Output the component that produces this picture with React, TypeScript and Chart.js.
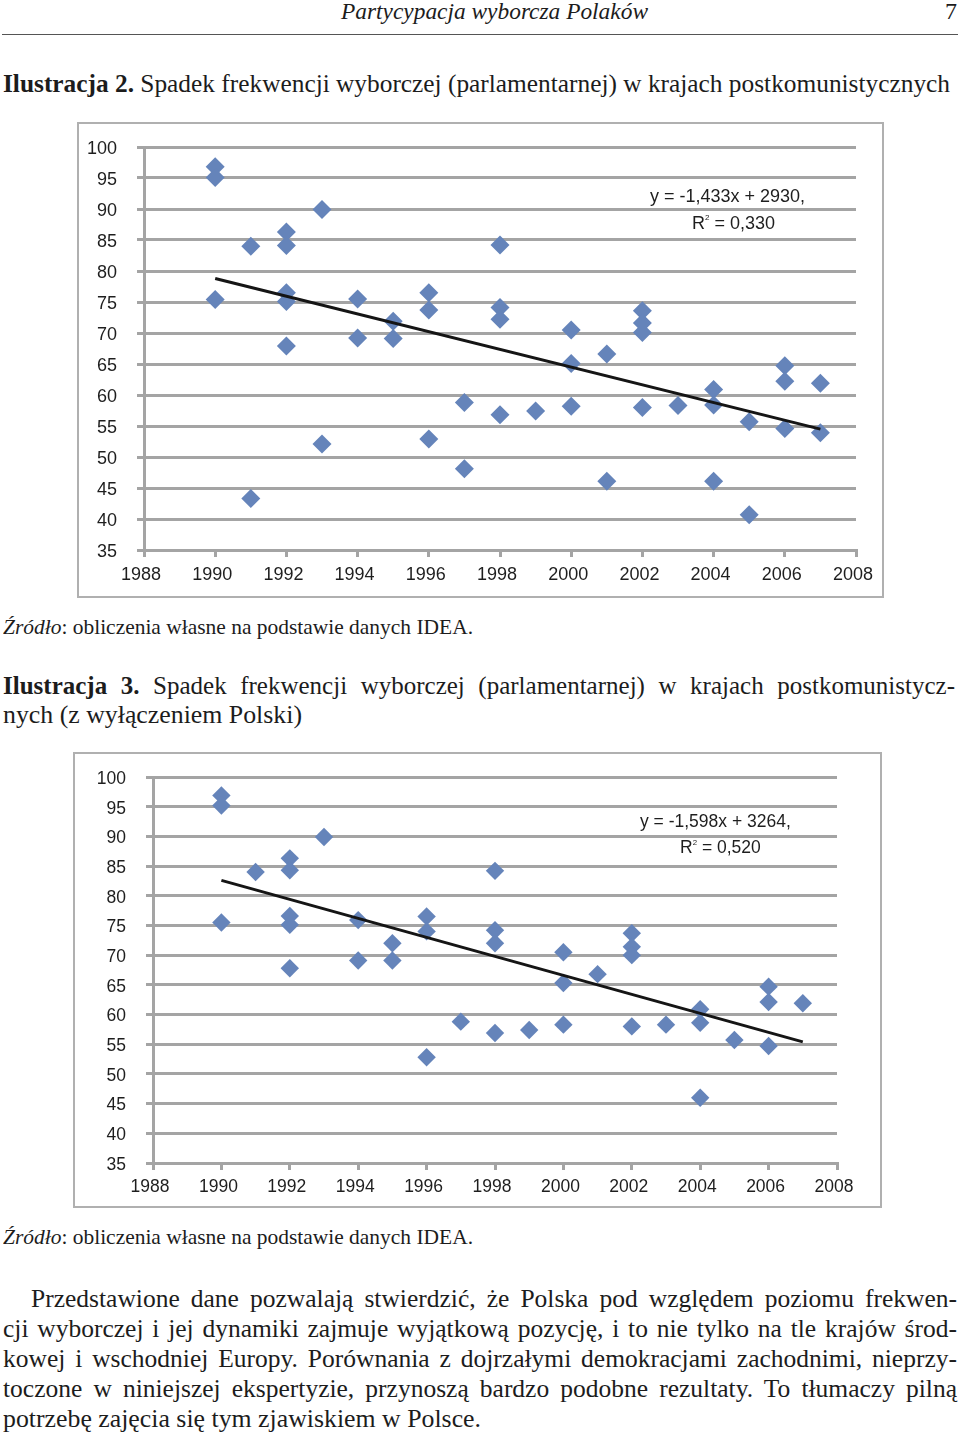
import React, { useEffect, useLayoutEffect, useRef } from 'react';
import { Chart, registerables } from 'chart.js';

Chart.register(...registerables);

// ---------- data: Ilustracja 2 (all countries) ----------
const YEARS_ALL = [
  1990, 1990, 1990, 1991, 1991, 1992, 1992, 1992, 1992, 1992, 1993, 1993,
  1994, 1994, 1995, 1995, 1996, 1996, 1996, 1997, 1997, 1998, 1998, 1998, 1998,
  1999, 2000, 2000, 2000, 2001, 2001, 2002, 2002, 2002, 2002, 2003,
  2004, 2004, 2004, 2005, 2005, 2006, 2006, 2006, 2007, 2007,
];
const TURNOUT_ALL = [
  96.8, 95.1, 75.4, 84.0, 43.3, 86.3, 84.1, 76.5, 75.1, 67.9, 89.9, 52.1,
  75.5, 69.2, 71.9, 69.1, 76.5, 73.7, 52.9, 58.8, 48.1, 84.2, 74.1, 72.2, 56.8,
  57.4, 70.5, 65.1, 58.2, 66.6, 46.1, 73.6, 71.6, 70.1, 58.0, 58.3,
  60.9, 58.4, 46.1, 55.7, 40.7, 64.7, 62.2, 54.6, 61.9, 53.9,
];
const TREND_ALL_YEARS = [1990, 2007];
const TREND_ALL_VALUES = [78.8, 54.5];
const EQ_ALL = ['y = -1,433x + 2930,', '0,330'];

// ---------- data: Ilustracja 3 (without Poland) ----------
const YEARS_NO_PL = [
  1990, 1990, 1990, 1991, 1992, 1992, 1992, 1992, 1992, 1993,
  1994, 1994, 1995, 1995, 1996, 1996, 1996, 1997, 1998, 1998, 1998, 1998,
  1999, 2000, 2000, 2000, 2001, 2002, 2002, 2002, 2002, 2003,
  2004, 2004, 2004, 2005, 2006, 2006, 2006, 2007,
];
const TURNOUT_NO_PL = [
  96.9, 95.2, 75.5, 84.0, 86.3, 84.3, 76.6, 75.1, 67.8, 89.9,
  75.9, 69.1, 72.0, 69.1, 76.5, 74.0, 52.8, 58.8, 84.2, 74.2, 72.0, 56.9,
  57.4, 70.5, 65.3, 58.3, 66.8, 73.7, 71.4, 70.0, 58.0, 58.3,
  60.9, 58.6, 46.0, 55.7, 64.7, 62.1, 54.7, 61.9,
];
const TREND_NO_PL_YEARS = [1990, 2007];
const TREND_NO_PL_VALUES = [82.6, 55.4];
const EQ_NO_PL = ['y = -1,598x + 3264,', '0,520'];

const X_MIN = 1988;
const X_MAX = 2008;
const X_STEP = 2;
const Y_MIN = 35;
const Y_MAX = 100;
const Y_STEP = 5;

const MARKER = '#6584BA';
const GRID = '#a4a4a4';
const TICK_TEXT = '#1e1e1e';

type ChartBoxProps = {
  left: number; top: number; width: number; height: number;
  years: number[]; values: number[]; trendYears: number[]; trendValues: number[];
  yAxisWidth: number; padTop: number; padRight: number; padBottom: number;
  fontSize: number; pointRadius: number;
};

function ChartBox(p: ChartBoxProps) {
  const ref = useRef<HTMLCanvasElement | null>(null);
  useEffect(() => {
    if (!ref.current) return;
    const pts = p.years.map((x, i) => ({ x, y: p.values[i] }));
    const trend = p.trendYears.map((x, i) => ({ x, y: p.trendValues[i] }));
    const font = { family: '"Liberation Sans", Arial, sans-serif', size: p.fontSize };
    const chart = new Chart(ref.current, {
      type: 'scatter',
      data: {
        datasets: [
          {
            data: pts,
            pointStyle: 'rectRot',
            pointRadius: p.pointRadius,
            backgroundColor: MARKER,
            borderColor: MARKER,
            borderWidth: 0,
            order: 1,
          } as any,
          {
            data: trend,
            showLine: true,
            borderColor: '#151515',
            borderWidth: 3,
            pointRadius: 0,
            order: 0,
          } as any,
        ],
      },
      options: {
        animation: false,
        responsive: false,
        devicePixelRatio: 1,
        layout: { autoPadding: false, padding: { left: 0, top: p.padTop, right: p.padRight, bottom: p.padBottom } },
        plugins: { legend: { display: false }, tooltip: { enabled: false } },
        scales: {
          x: {
            type: 'linear',
            min: X_MIN,
            max: X_MAX,
            ticks: {
              stepSize: X_STEP,
              callback: (v: any) => String(v),
              color: TICK_TEXT,
              font,
              padding: 7,
              maxRotation: 0,
              autoSkip: false,
              labelOffset: -3,
            },
            grid: { drawOnChartArea: false, drawTicks: true, tickLength: 7, color: GRID, lineWidth: 3 },
            border: { color: GRID, width: 3 },
            afterFit: (s: any) => {
              s.height = 40;
              s.paddingLeft = 0; s.paddingRight = 0; s.paddingTop = 0; s.paddingBottom = 0;
            },
          },
          y: {
            type: 'linear',
            min: Y_MIN,
            max: Y_MAX,
            ticks: { stepSize: Y_STEP, color: TICK_TEXT, font, padding: 20, labelOffset: 2 },
            grid: { drawTicks: true, tickLength: 7, color: GRID, lineWidth: 3 },
            border: { color: GRID, width: 3 },
            afterFit: (s: any) => {
              s.width = p.yAxisWidth;
              s.paddingLeft = 0; s.paddingRight = 0; s.paddingTop = 0; s.paddingBottom = 0;
            },
          },
        },
      } as any,
    });
    return () => chart.destroy();
  }, []);
  return (
    <>
      <div
        style={{
          position: 'absolute', left: p.left, top: p.top, width: p.width, height: p.height,
          border: '2px solid #b0b0b0', boxSizing: 'border-box', background: '#fff',
        }}
      />
      <canvas
        ref={ref}
        width={p.width}
        height={p.height}
        style={{ position: 'absolute', left: p.left, top: p.top, width: p.width, height: p.height }}
      />
    </>
  );
}

type LineProps = {
  left: number; baseline: number; width: number; size: number;
  justify?: boolean; children: React.ReactNode; style?: React.CSSProperties;
};

function Line({ left, baseline, width, size, justify, children, style }: LineProps) {
  const ref = useRef<HTMLDivElement | null>(null);
  useLayoutEffect(() => {
    const fit = () => {
      const el = ref.current;
      if (!el) return;
      el.style.transform = 'none';
      el.style.wordSpacing = '0px';
      const natural = el.getBoundingClientRect().width;
      if (!natural) return;
      const spaces = (el.textContent || '').split(' ').length - 1;
      if (justify && natural < width && spaces > 0) {
        el.style.wordSpacing = (width - natural) / spaces + 'px';
      } else {
        el.style.transform = `scaleX(${width / natural})`;
      }
    };
    fit();
    const f: any = (document as any).fonts;
    if (f && f.ready) f.ready.then(fit);
  });
  return (
    <div
      ref={ref}
      style={{
        position: 'absolute', left, top: baseline - 0.8375 * size, fontSize: size,
        lineHeight: size + 'px', whiteSpace: 'pre', transformOrigin: '0 0',
        fontFamily: '"Liberation Serif", "Times New Roman", serif', color: '#1c1c1c',
        ...style,
      }}
    >
      {children}
    </div>
  );
}

function Eq({ left, center, size, children }: { left: number; center: number; size: number; children: React.ReactNode }) {
  return (
    <div
      style={{
        position: 'absolute', left, top: center - 0.4885 * size, fontSize: size, lineHeight: size + 'px',
        whiteSpace: 'pre', fontFamily: '"Liberation Sans", Arial, sans-serif', color: '#1e1e1e',
      }}
    >
      {children}
    </div>
  );
}

function R2({ value, size }: { value: string; size: number }) {
  return (
    <>
      R<span style={{ fontSize: size * 0.45, position: 'relative', top: -size * 0.5 }}>2</span> = {value}
    </>
  );
}

export default function App() {
  return (
    <div style={{ position: 'absolute', left: 0, top: 0, width: 960, height: 1436, background: '#fff', overflow: 'hidden' }}>
      {/* running head */}
      <Line left={341} baseline={19} width={307} size={23} style={{ fontStyle: 'italic' }}>Partycypacja wyborcza Polaków</Line>
      <Line left={945} baseline={19} width={12} size={23}>7</Line>
      <div style={{ position: 'absolute', left: 2, top: 34, width: 956, height: 1, background: '#555' }} />

      <Line left={3} baseline={92} width={947} size={25}>
        <b>Ilustracja 2.</b> Spadek frekwencji wyborczej (parlamentarnej) w krajach postkomunistycznych
      </Line>

      <ChartBox
        left={77} top={122} width={807} height={476}
        years={YEARS_ALL} values={TURNOUT_ALL}
        trendYears={TREND_ALL_YEARS} trendValues={TREND_ALL_VALUES}
        yAxisWidth={67} padTop={25} padRight={28} padBottom={8}
        fontSize={18} pointRadius={9.5}
      />
      <Eq left={650} center={196} size={18}>{EQ_ALL[0]}</Eq>
      <Eq left={692} center={223} size={18}><R2 value={EQ_ALL[1]} size={18} /></Eq>

      <Line left={3} baseline={635} width={470} size={21.5}>
        <i>Źródło</i>: obliczenia własne na podstawie danych IDEA.
      </Line>

      <Line left={3} baseline={694} width={952} size={25} justify>
        <b>Ilustracja 3.</b> Spadek frekwencji wyborczej (parlamentarnej) w krajach postkomunistycz-
      </Line>
      <Line left={3} baseline={723} width={299} size={25}>nych (z wyłączeniem Polski)</Line>

      <ChartBox
        left={73} top={752} width={809} height={456}
        years={YEARS_NO_PL} values={TURNOUT_NO_PL}
        trendYears={TREND_NO_PL_YEARS} trendValues={TREND_NO_PL_VALUES}
        yAxisWidth={80} padTop={25} padRight={45} padBottom={5}
        fontSize={17.5} pointRadius={9.2}
      />
      <Eq left={640} center={822} size={17.5}>{EQ_NO_PL[0]}</Eq>
      <Eq left={680} center={848} size={17.5}><R2 value={EQ_NO_PL[1]} size={17.5} /></Eq>

      <Line left={3} baseline={1245} width={470} size={21.5}>
        <i>Źródło</i>: obliczenia własne na podstawie danych IDEA.
      </Line>

      <Line left={31} baseline={1307} width={926} size={25.5} justify>
        Przedstawione dane pozwalają stwierdzić, że Polska pod względem poziomu frekwen-
      </Line>
      <Line left={3} baseline={1337} width={954} size={25.5} justify>
        cji wyborczej i jej dynamiki zajmuje wyjątkową pozycję, i to nie tylko na tle krajów środ-
      </Line>
      <Line left={3} baseline={1367} width={954} size={25.5} justify>
        kowej i wschodniej Europy. Porównania z dojrzałymi demokracjami zachodnimi, nieprzy-
      </Line>
      <Line left={3} baseline={1397} width={954} size={25.5} justify>
        toczone w niniejszej ekspertyzie, przynoszą bardzo podobne rezultaty. To tłumaczy pilną
      </Line>
      <Line left={3} baseline={1427} width={478} size={25.5}>
        potrzebę zajęcia się tym zjawiskiem w Polsce.
      </Line>
    </div>
  );
}
